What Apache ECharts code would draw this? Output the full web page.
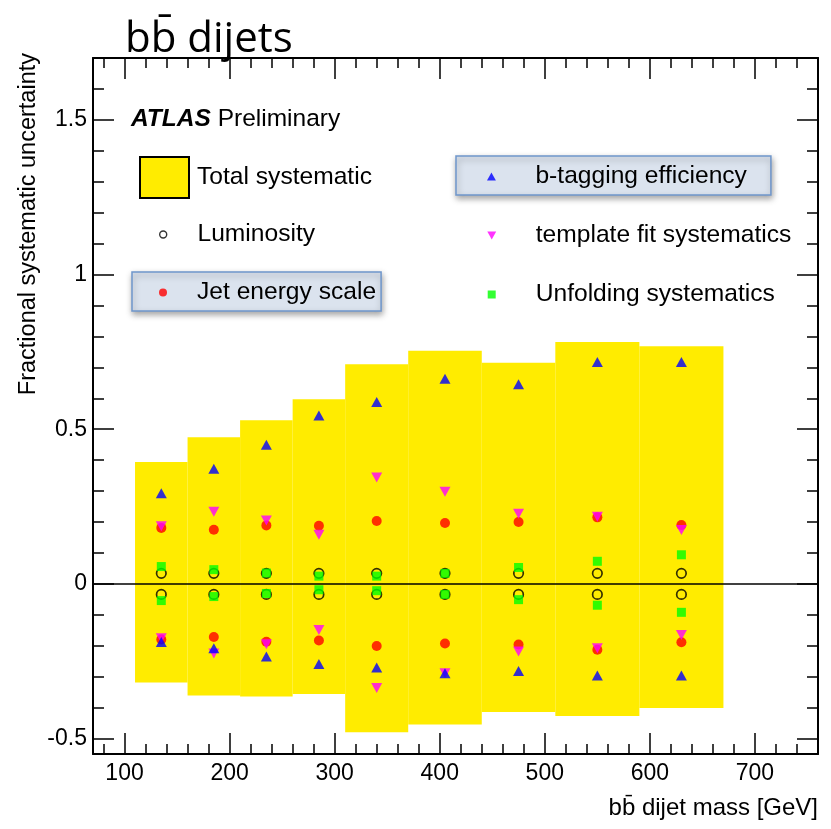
<!DOCTYPE html>
<html>
<head>
<meta charset="utf-8">
<script src="https://cdn.jsdelivr.net/npm/echarts@6/dist/echarts.min.js"></script>
<style>
html, body { margin: 0; padding: 0; background: #fff; }
#chart { width: 831px; height: 829px; }
</style>
</head>
<body>
<div id="chart"></div>
<script>
// Dijet mass bins [GeV]
const binEdges   = [110, 160, 210, 260, 310, 370, 440, 510, 590, 670];
const binCenters = [135, 185, 235, 285, 340, 405, 475, 550, 630];

// Total systematic band (up / down)
const totalUp   = [0.394, 0.474, 0.529, 0.597, 0.710, 0.754, 0.715, 0.782, 0.768];
const totalDown = [-0.319, -0.361, -0.364, -0.356, -0.480, -0.455, -0.414, -0.427, -0.401];

// Individual components (up / down)
const btagUp    = [0.293, 0.372, 0.450, 0.544, 0.588, 0.663, 0.645, 0.717, 0.717];
const btagDown  = [-0.188, -0.208, -0.235, -0.259, -0.270, -0.289, -0.282, -0.296, -0.296];
const templUp   = [0.186, 0.233, 0.205, 0.159, 0.344, 0.298, 0.227, 0.217, 0.174];
const templDown = [-0.176, -0.225, -0.195, -0.149, -0.337, -0.289, -0.219, -0.208, -0.165];
const jesUp     = [0.181, 0.175, 0.189, 0.188, 0.203, 0.197, 0.200, 0.215, 0.190];
const jesDown   = [-0.180, -0.172, -0.187, -0.183, -0.201, -0.193, -0.196, -0.213, -0.189];
const lumiUp    = [0.034, 0.034, 0.034, 0.034, 0.034, 0.034, 0.034, 0.034, 0.034];
const lumiDown  = [-0.034, -0.034, -0.034, -0.034, -0.034, -0.034, -0.034, -0.034, -0.034];
const unfUp     = [0.056, 0.046, 0.035, 0.025, 0.025, 0.034, 0.053, 0.073, 0.094];
const unfDown   = [-0.054, -0.041, -0.031, -0.019, -0.022, -0.034, -0.051, -0.069, -0.092];

const SANS = 'Liberation Sans, Arial, Helvetica, sans-serif';
const TRI_UP = 'path://M0,9L5,0L10,9Z';
const TRI_DOWN = 'path://M0,0L10,0L5,9Z';
const SQUARE = 'path://M0,0L10,0L10,10L0,10Z';

const COL_BAND = '#ffec00';
const COL_BTAG = '#0000ff';
const COL_TEMPL = '#ff00ff';
const COL_JES = '#ff0000';
const COL_UNF = '#00ff00';

function upDown(up, down) {
  const pts = [];
  binCenters.forEach((x, i) => { pts.push([x, up[i]]); pts.push([x, down[i]]); });
  return pts;
}

const chart = echarts.init(document.getElementById('chart'), null, { renderer: 'canvas' });

const frameLine = { color: '#000', width: 2 };
const tickLine = { color: '#000', width: 1.5 };
const tickFont = { fontFamily: SANS, fontSize: 23, color: '#000' };
const legendFont = { fontFamily: SANS, fontSize: 24.6, color: '#000' };
const boxStyle = {
  backgroundColor: '#dbe3ee', borderColor: '#6f96cb', borderWidth: 1.5,
  shadowBlur: 6, shadowColor: 'rgba(0,0,0,0.35)', shadowOffsetX: 1, shadowOffsetY: 3
};

function xAx(pos, labels) {
  return {
    type: 'value', position: pos, min: 70, max: 760, splitNumber: 7,
    axisLine: { show: true, onZero: false, lineStyle: frameLine },
    axisTick: { show: true, inside: true, length: 21, lineStyle: tickLine },
    minorTick: { show: true, splitNumber: 5, length: 10, lineStyle: tickLine },
    splitLine: { show: false },
    axisLabel: Object.assign({ show: labels, margin: 8, showMinLabel: false, showMaxLabel: false }, tickFont)
  };
}
function yAx(pos, labels) {
  return {
    type: 'value', position: pos, min: -0.55, max: 1.7, splitNumber: 5,
    axisLine: { show: true, onZero: false, lineStyle: frameLine },
    axisTick: { show: true, inside: true, length: 21, lineStyle: tickLine },
    minorTick: { show: true, splitNumber: 5, length: 11, lineStyle: tickLine },
    splitLine: { show: false },
    axisLabel: Object.assign({ show: labels, margin: 6, showMinLabel: false, showMaxLabel: false }, tickFont)
  };
}

// One legend block per entry; the block is laid out from the visible icon's left edge,
// so itemWidth sets the icon-to-text distance: (itemWidth + iconWidth) / 2 + 5.
function legendItem(name, icon, itemStyle, pos, extra) {
  return Object.assign({
    data: [{ name: name, icon: icon, itemStyle: itemStyle }],
    left: pos[0], top: pos[1], padding: 0, selectedMode: false, textStyle: legendFont
  }, extra);
}

const option = {
  backgroundColor: '#fff',
  animation: false,
  grid: { left: 93, right: 13, top: 58, bottom: 75, containLabel: false, outerBoundsMode: 'none' },
  xAxis: [xAx('bottom', true), xAx('top', false)],
  yAxis: [yAx('left', true), yAx('right', false)],
  legend: [
    legendItem('Total systematic', 'rect', { color: COL_BAND, borderColor: '#000', borderWidth: 2 },
      [139, 156], { itemWidth: 49, itemHeight: 41, textStyle: Object.assign({ padding: [0, 0, 0, 3] }, legendFont) }),
    legendItem('Luminosity', 'circle', { color: 'rgba(0,0,0,0)', borderColor: '#000', borderWidth: 1.4 },
      [159, 222], { itemWidth: 58.6, itemHeight: 7 }),
    legendItem('Jet energy scale', 'circle', { color: COL_JES, borderWidth: 0 },
      [132, 272], Object.assign({ itemWidth: 58, itemHeight: 8, padding: [8, 5, 6, 27] }, boxStyle)),
    legendItem('b-tagging efficiency', TRI_UP, { color: COL_BTAG, borderWidth: 0 },
      [456, 156], Object.assign({ itemWidth: 78, itemHeight: 8, padding: [8, 24, 6, 31] }, boxStyle)),
    legendItem('template fit systematics', TRI_DOWN, { color: COL_TEMPL, borderWidth: 0 },
      [487.3, 223], { itemWidth: 78, itemHeight: 8 }),
    legendItem('Unfolding systematics', SQUARE, { color: COL_UNF, borderWidth: 0 },
      [487.7, 282], { itemWidth: 78, itemHeight: 8 })
  ],
  graphic: [
    { type: 'text', x: 125, y: 40, style: { text: 'bb\u0304 dijets', fontFamily: 'Open Sans, sans-serif', fontSize: 42, fill: '#000', verticalAlign: 'middle' } },
    { type: 'text', x: 131, y: 119.5, style: {
        text: '{a|ATLAS} Preliminary', fontFamily: SANS, fontSize: 24.5, fill: '#000', verticalAlign: 'middle',
        rich: { a: { fontFamily: SANS, fontSize: 24.5, fontWeight: 'bold', fontStyle: 'italic', fill: '#000' } } } },
    { type: 'text', x: 29, y: 53, rotation: Math.PI / 2, style: {
        text: 'Fractional systematic uncertainty', fontFamily: SANS, fontSize: 23.5, fill: '#000',
        align: 'right', verticalAlign: 'middle' } },
    { type: 'text', x: 818, y: 808, style: {
        text: 'bb\u0304 dijet mass [GeV]', fontFamily: SANS, fontSize: 24, fill: '#000',
        align: 'right', verticalAlign: 'middle' } }
  ],
  series: [
    {
      type: 'custom', name: 'Total systematic', z: 1,
      renderItem: function (params, api) {
        const p1 = api.coord([api.value(0), api.value(3)]);
        const p2 = api.coord([api.value(1), api.value(2)]);
        return { type: 'rect', shape: { x: p1[0], y: p1[1], width: p2[0] - p1[0], height: p2[1] - p1[1] },
                 style: { fill: COL_BAND } };
      },
      encode: { x: [0, 1], y: [2, 3] },
      data: totalUp.map((u, i) => [binEdges[i], binEdges[i + 1], totalDown[i], u]),
      markLine: {
        z: 3, silent: true, symbol: 'none', label: { show: false },
        lineStyle: { color: '#000', width: 1.5, type: 'solid' },
        data: [{ yAxis: 0 }]
      }
    },
    { type: 'scatter', name: 'Luminosity', z: 10, symbol: 'circle', symbolSize: 9.5,
      itemStyle: { color: 'rgba(0,0,0,0)', borderColor: '#000', borderWidth: 1.7 },
      data: upDown(lumiUp, lumiDown) },
    { type: 'scatter', name: 'Unfolding systematics', z: 11, symbol: SQUARE, symbolSize: 9,
      itemStyle: { color: COL_UNF }, data: upDown(unfUp, unfDown) },
    { type: 'scatter', name: 'Jet energy scale', z: 12, symbol: 'circle', symbolSize: 10,
      itemStyle: { color: COL_JES }, data: upDown(jesUp, jesDown) },
    { type: 'scatter', name: 'template fit systematics', z: 13, symbol: TRI_DOWN, symbolSize: [11, 10],
      itemStyle: { color: COL_TEMPL }, data: upDown(templUp, templDown) },
    { type: 'scatter', name: 'b-tagging efficiency', z: 14, symbol: TRI_UP, symbolSize: [11, 10],
      itemStyle: { color: COL_BTAG }, data: upDown(btagUp, btagDown) }
  ]
};

chart.setOption(option);
</script>
</body>
</html>
